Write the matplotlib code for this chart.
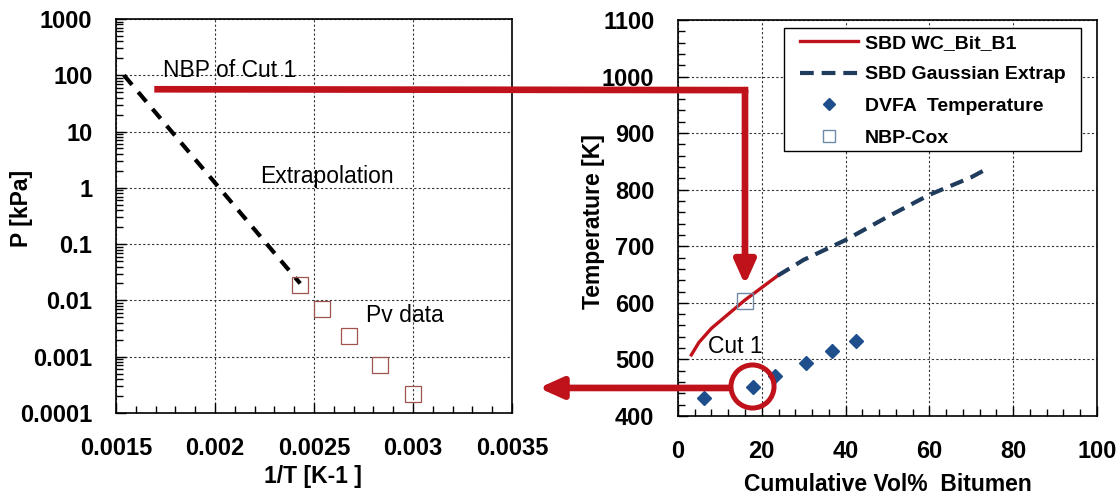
import matplotlib
matplotlib.use("Agg")
import matplotlib.pyplot as plt
from matplotlib.ticker import MultipleLocator, FuncFormatter, LogLocator, NullFormatter
from matplotlib.patches import ConnectionPatch, Rectangle

plt.rcParams['font.family'] = ['Liberation Sans', 'DejaVu Sans']

# ---- left panel: vapour pressure vs 1/T ----
pv_inv_t = [0.00243, 0.00254, 0.002677, 0.002832, 0.002998]
pv_p = [0.0188, 0.00705, 0.00237, 0.000713, 0.000215]
ext_inv_t = [0.00154, 0.00243]
ext_p = [100, 0.02]

# ---- right panel: distillation curve ----
sbd_x = [3.2, 5, 8, 12, 16, 20, 23.8]
sbd_t = [508, 530, 555, 580, 605, 627, 648]
gauss_x = [23.8, 30, 40, 50, 60, 70, 74]
gauss_t = [648, 676, 711, 752, 791, 822, 838]
dvfa_x = [6.3, 17.8, 23.2, 30.5, 36.8, 42.5]
dvfa_t = [431, 452, 471, 493, 514, 533]
nbp_x = [16]
nbp_t = [604]

RED = '#c0121b'
GRID = dict(color='#333333', linestyle=(0, (2, 2)), linewidth=0.8)

fig = plt.figure(figsize=(11.18, 4.98), dpi=100)
fig.patch.set_facecolor('white')

ax1 = fig.add_axes([0.1038, 0.1707, 0.3542, 0.7912])
ax2 = fig.add_axes([0.6064, 0.1647, 0.3748, 0.7952])

# left
ax1.set_yscale('log')
ax1.set_xlim(0.0015, 0.0035)
ax1.set_ylim(0.0001, 1000)
ax1.plot(ext_inv_t, ext_p, color='black', lw=3, dashes=[3, 2.3], zorder=3)
ax1.plot(pv_inv_t, pv_p, 's', ms=11.5, mfc='none', mec='#a0524f', mew=0.9, zorder=4)
ax1.xaxis.set_major_locator(MultipleLocator(0.0005))
ax1.xaxis.set_minor_locator(MultipleLocator(0.0001))
ax1.xaxis.set_major_formatter(FuncFormatter(lambda v, p: f'{v:g}'))
ax1.yaxis.set_major_locator(LogLocator(base=10, numticks=20))
ax1.yaxis.set_minor_locator(LogLocator(base=10, subs=range(2, 10), numticks=20))
ax1.yaxis.set_minor_formatter(NullFormatter())
ax1.yaxis.set_major_formatter(FuncFormatter(lambda v, p: f'{v:g}'))
ax1.grid(True, which='major', **GRID)
ax1.set_xlabel('1/T [K-1 ]', fontsize=16.5, fontweight='bold')
ax1.set_ylabel('P [kPa]', fontsize=16.5, fontweight='bold')
ax1.xaxis.set_label_coords(0.497, -0.132)
ax1.yaxis.set_label_coords(-0.21, 0.52)
ax1.text(0.001737, 124, 'NBP of Cut 1', fontsize=16.5, va='center', ha='left')
ax1.text(0.002227, 1.56, 'Extrapolation', fontsize=16.5, va='center', ha='left')
ax1.text(0.002763, 0.0055, 'Pv data', fontsize=16.5, va='center', ha='left')

# right
ax2.set_xlim(0, 100)
ax2.set_ylim(400, 1100)
ax2.plot(sbd_x, sbd_t, color=RED, lw=2.4, label='SBD WC_Bit_B1', zorder=3)
ax2.plot(gauss_x, gauss_t, color='#1f3c5c', lw=3, dashes=[3.3, 1.9],
         label='SBD Gaussian Extrap', zorder=3)
ax2.plot(dvfa_x, dvfa_t, 'D', ms=7.5, color='#1f4e8c', label='DVFA  Temperature', zorder=4)
ax2.plot(nbp_x, nbp_t, 's', ms=11.5, mfc='none', mec='#6f8aa8', mew=1.0,
         label='NBP-Cox', zorder=4)
ax2.xaxis.set_major_locator(MultipleLocator(20))
ax2.xaxis.set_minor_locator(MultipleLocator(4))
ax2.yaxis.set_major_locator(MultipleLocator(100))
ax2.yaxis.set_minor_locator(MultipleLocator(20))
ax2.grid(True, which='major', **GRID)
ax2.set_xlabel('Cumulative Vol%  Bitumen', fontsize=16.5, fontweight='bold')
ax2.set_ylabel('Temperature [K]', fontsize=16.5, fontweight='bold')
ax2.xaxis.set_label_coords(0.5, -0.145)
ax2.yaxis.set_label_coords(-0.174, 0.49)
ax2.text(7.2, 522, 'Cut 1', fontsize=16.5, va='center', ha='left')

# legend frame drawn separately (padding is wider at the sides than top/bottom)
ax2.add_patch(Rectangle((0.253, 0.669), 0.709, 0.311, transform=ax2.transAxes,
                        facecolor='white', edgecolor='black', lw=1.0, zorder=7))
leg = ax2.legend(loc='upper left', bbox_to_anchor=(0.291, 0.964), borderaxespad=0,
                 frameon=False, borderpad=0, markerscale=0.75,
                 prop={'weight': 'bold', 'size': 14}, handlelength=3.0,
                 handletextpad=0.36, labelspacing=0.72)
leg.set_zorder(8)

for ax in (ax1, ax2):
    ax.tick_params(which='both', direction='in', labelsize=17, top=False, right=False)
    ax.tick_params(which='major', length=7, width=1, pad=17)
    ax.tick_params(which='minor', length=5, width=1)
    for lab in ax.get_xticklabels() + ax.get_yticklabels():
        lab.set_fontweight('bold')
    for s in ax.spines.values():
        s.set_linewidth(1.2)

# ---- arrows linking the two panels ----
nbp_start = (0.00171, 56.4)
corner = (16, 976)
tip = (16, 632)
con = ConnectionPatch(xyA=nbp_start, coordsA=ax1.transData, xyB=corner, coordsB=ax2.transData,
                      color=RED, lw=4.8, capstyle='projecting', zorder=10)
fig.add_artist(con)
ax2.annotate('', xy=tip, xytext=corner, xycoords='data',
             arrowprops=dict(arrowstyle='-|>,head_length=1.0,head_width=0.45', color=RED,
                             lw=4.8, mutation_scale=14, shrinkA=0, shrinkB=0),
             zorder=10, annotation_clip=False)

circle_xy = (17.6, 453)
ax2.plot([circle_xy[0]], [circle_xy[1]], 'o', ms=31, mfc='none', mec=RED, mew=3.6,
         clip_on=False, zorder=6)
back = ConnectionPatch(xyA=(12.4, 449.5), coordsA=ax2.transData, xyB=(0.482, 0.221),
                       coordsB='figure fraction', color=RED, lw=4.8,
                       arrowstyle='-|>,head_length=1.0,head_width=0.45', mutation_scale=14,
                       zorder=10)
fig.add_artist(back)

fig.savefig('out.png', dpi=100, facecolor='white')
